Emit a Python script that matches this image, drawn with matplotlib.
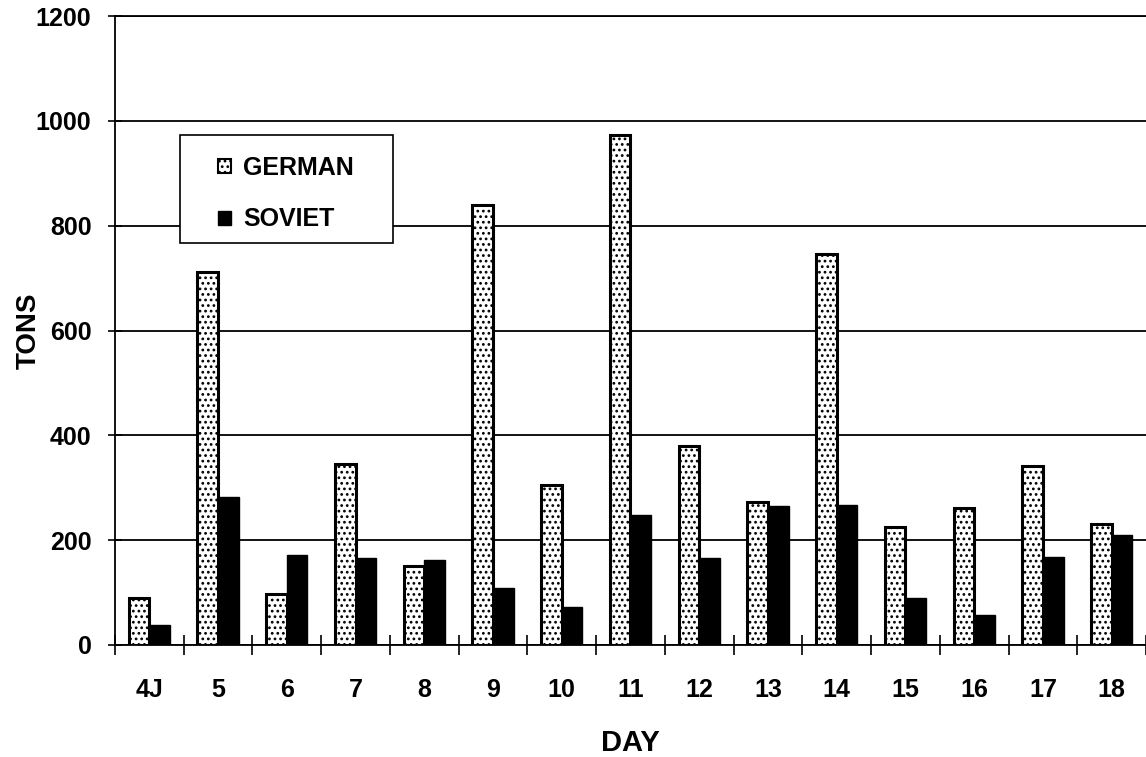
import matplotlib as mpl
import matplotlib.pyplot as plt
import numpy as np
from matplotlib.patches import Patch, Rectangle

mpl.use("Agg")

# days (4J = 4 July) and tonnage per side
days = ["4J", "5", "6", "7", "8", "9", "10", "11", "12", "13", "14", "15", "16", "17", "18"]
german = [90, 712, 97, 345, 150, 840, 306, 973, 380, 273, 745, 225, 262, 342, 230]
soviet = [38, 282, 172, 166, 163, 108, 73, 248, 166, 266, 268, 90, 58, 168, 210]
yticks = [0, 200, 400, 600, 800, 1000, 1200]

plt.rcParams['font.family'] = ['Liberation Sans', 'DejaVu Sans']
plt.rcParams['font.weight'] = 'bold'
plt.rcParams['hatch.linewidth'] = 1.2

W, H = 1146, 757
fig = plt.figure(figsize=(W / 100, H / 100), dpi=100)
ax = fig.add_axes([115 / W, 112 / H, 1 - 115 / W, (645 - 16) / H])

x = np.arange(len(days))
w = 0.3
ax.bar(x - w / 2, german, w, color="white", edgecolor="black", linewidth=2.2,
       hatch="...", zorder=3)
ax.bar(x + w / 2, soviet, w, color="black", edgecolor="black", linewidth=1.0, zorder=3)

ax.set_ylim(0, 1200)
ax.set_xlim(-0.5, 14.44)
ax.set_yticks(yticks)
ax.set_yticklabels([str(v) for v in yticks], fontsize=18, fontweight="bold")
ax.tick_params(axis="y", direction="inout", length=10, width=1.2, pad=12)

ax.set_xticks(x)
ax.set_xticklabels(days, fontsize=18, fontweight="bold")
ax.tick_params(axis="x", which="major", length=0, pad=24)
ax.set_xticks(np.arange(-0.5, len(days), 1.0), minor=True)
ax.tick_params(axis="x", which="minor", direction="inout", length=14, width=1.2)

ax.yaxis.grid(True, color="black", linewidth=1.3, zorder=0)
ax.set_axisbelow(True)
ax.spines["right"].set_visible(False)
for s in ["left", "bottom", "top"]:
    ax.spines[s].set_linewidth(1.3)

ax.set_ylabel("TONS", fontsize=20, fontweight="bold", labelpad=-4)
ax.set_xlabel("DAY", fontsize=21, fontweight="bold", labelpad=19)

# legend frame drawn as its own box so its shape matches the original
box = Rectangle((180 / W, 1 - 243 / H), 213 / W, 108 / H, transform=fig.transFigure,
                facecolor="white", edgecolor="black", linewidth=1.2, zorder=5)
fig.patches.append(box)

handles = [Patch(facecolor="white", edgecolor="black", hatch="...", linewidth=1.5, label="GERMAN"),
           Patch(facecolor="black", edgecolor="black", label="SOVIET")]
leg = fig.legend(handles=handles, loc="upper left",
                 bbox_to_anchor=(218 / W, 1 - 156 / H), bbox_transform=fig.transFigure,
                 borderaxespad=0, frameon=False,
                 prop={"size": 18, "weight": "bold"}, handlelength=0.5, handleheight=0.5,
                 handletextpad=0.5, borderpad=0, labelspacing=1.1)
leg.set_zorder(6)

fig.savefig("out.png", dpi=100)
